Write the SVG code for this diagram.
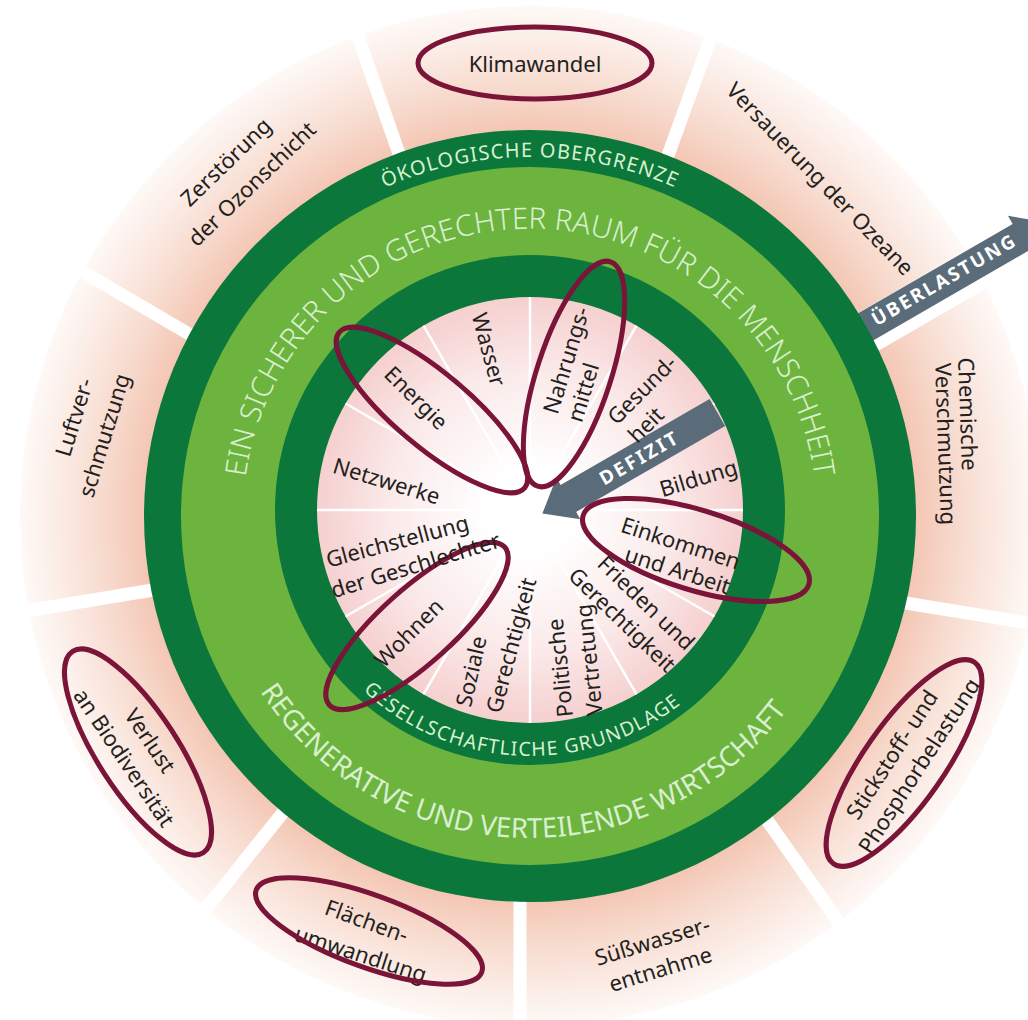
<svg xmlns="http://www.w3.org/2000/svg" width="1028" height="1020" viewBox="0 0 1028 1020">
<style>
.lbl{font-family:"Noto Sans","Open Sans",sans-serif;font-size:22px;fill:#231f20;text-anchor:middle;dominant-baseline:central}
.ring{font-family:"Noto Sans","Open Sans",sans-serif;fill:#d8f0cf;text-anchor:middle}
.arrow{fill:#5a6b79}
.atxt{font-family:"Noto Sans","Open Sans",sans-serif;font-weight:bold;fill:#ffffff;text-anchor:middle;dominant-baseline:central}
.gap{stroke:#ffffff;stroke-width:13;stroke-linecap:butt}
.sline{stroke:#ffffff;stroke-width:2.5}
.oval{fill:none;stroke:#7a1438;stroke-width:5}
</style>
<defs>
  <radialGradient id="gOuter" gradientUnits="userSpaceOnUse" cx="530" cy="516" r="512">
    <stop offset="0.755" stop-color="#f4c7b4"/>
    <stop offset="0.83" stop-color="#f7d9cc"/>
    <stop offset="0.92" stop-color="#fbebe4"/>
    <stop offset="1" stop-color="#fefaf8"/>
  </radialGradient>
  <radialGradient id="gInner" gradientUnits="userSpaceOnUse" cx="530" cy="510" r="213">
    <stop offset="0.2" stop-color="#ffffff"/>
    <stop offset="0.65" stop-color="#fbeaea"/>
    <stop offset="1" stop-color="#f5d0cf"/>
  </radialGradient>
  <path id="pEco" d="M171,516 A359,359 0 0 1 889,516"/>
  <path id="pRaum" d="M247.4,565.8 A287,287 0 1 1 812.6,565.8"/>
  <path id="pRegen" d="M208,516 A322,322 0 0 0 852,516"/>
  <path id="pGes" d="M284,510 A246,246 0 0 0 776,510"/>
</defs>

<!-- outer ecological ceiling segments -->
<g id="ceiling-segments">
  <circle cx="530" cy="516" r="510" fill="url(#gOuter)"/>
  <line class="gap" x1="350" y1="14" x2="403" y2="165"/>
  <line class="gap" x1="718" y1="18" x2="663" y2="169"/>
  <line class="gap" x1="887" y1="600" x2="1035" y2="624"/>
  <line class="gap" x1="760" y1="810" x2="866" y2="961"/>
  <line class="gap" x1="520" y1="880" x2="520" y2="1040"/>
  <line class="gap" x1="293" y1="800" x2="177" y2="945"/>
  <line class="gap" x1="165" y1="588" x2="2" y2="615"/>
  <line class="gap" x1="54" y1="255" x2="201" y2="341"/>
</g>

<g id="connectors">
  <g id="ueberlastung" transform="translate(532,519.5) rotate(-30)">
    <rect x="370" y="-16" width="200" height="43" fill="#ffffff"/>
    <polygon class="arrow" points="370,-15.5 564,-15.5 564,-25 594,0 564,25 564,15.5 370,15.5"/>
  </g>
</g>

<!-- doughnut rings -->
<g id="rings">
  <circle cx="530" cy="516" r="386" fill="#0b773a"/>
  <circle cx="530" cy="516" r="349" fill="#6db43f"/>
  <circle cx="530" cy="510" r="255" fill="#0b773a"/>
  <circle cx="530" cy="510" r="213" fill="url(#gInner)"/>
  <g id="social-lines">
    <line class="sline" x1="530" y1="475" x2="530" y2="297"/>
    <line class="sline" x1="530" y1="475" x2="530" y2="297" transform="rotate(30 530 510)"/>
    <line class="sline" x1="530" y1="475" x2="530" y2="297" transform="rotate(60 530 510)"/>
    <line class="sline" x1="530" y1="475" x2="530" y2="297" transform="rotate(90 530 510)"/>
    <line class="sline" x1="530" y1="475" x2="530" y2="297" transform="rotate(120 530 510)"/>
    <line class="sline" x1="530" y1="475" x2="530" y2="297" transform="rotate(150 530 510)"/>
    <line class="sline" x1="530" y1="475" x2="530" y2="297" transform="rotate(180 530 510)"/>
    <line class="sline" x1="530" y1="475" x2="530" y2="297" transform="rotate(210 530 510)"/>
    <line class="sline" x1="530" y1="475" x2="530" y2="297" transform="rotate(240 530 510)"/>
    <line class="sline" x1="530" y1="475" x2="530" y2="297" transform="rotate(270 530 510)"/>
    <line class="sline" x1="530" y1="475" x2="530" y2="297" transform="rotate(300 530 510)"/>
    <line class="sline" x1="530" y1="475" x2="530" y2="297" transform="rotate(330 530 510)"/>
  </g>
  <text class="ring" font-size="20" letter-spacing="1.2"><textPath href="#pEco" startOffset="50%">ÖKOLOGISCHE OBERGRENZE</textPath></text>
  <text class="ring" font-size="29.5" font-weight="300"><textPath href="#pRaum" startOffset="50%">EIN SICHERER UND GERECHTER RAUM FÜR DIE MENSCHHEIT</textPath></text>
  <text class="ring" font-size="27.5"><textPath href="#pRegen" startOffset="48.9%">REGENERATIVE UND VERTEILENDE WIRTSCHAFT</textPath></text>
  <text class="ring" font-size="19.5" letter-spacing="1.2"><textPath href="#pGes" startOffset="48.7%">GESELLSCHAFTLICHE GRUNDLAGE</textPath></text>
</g>

<g id="connectors-2">
  <g id="defizit" transform="translate(532,519.5) rotate(-30)">
    <polygon class="arrow" points="12,0 42,-24 42,-15.5 214,-15.5 214,15.5 42,15.5 42,24"/>
    <text class="atxt" x="124" y="0" font-size="19" letter-spacing="2.5">DEFIZIT</text>
  </g>
  <g transform="translate(532,519.5) rotate(-30)">
    <text class="atxt" x="477" y="-2" font-size="19" letter-spacing="2.3">ÜBERLASTUNG</text>
  </g>
</g>

<!-- ecological ceiling nodes -->
<g id="n-klimawandel">
  <text class="lbl" transform="translate(535,63)">Klimawandel</text>
  <ellipse class="oval" cx="535" cy="63" rx="117" ry="36"/>
</g>
<g id="n-versauerung">
  <text class="lbl" transform="translate(821,178) rotate(46)">Versauerung der Ozeane</text>
</g>
<g id="n-chemische">
  <text class="lbl" transform="translate(969,414) rotate(88)">Chemische</text>
  <text class="lbl" transform="translate(947,444) rotate(88)">Verschmutzung</text>
</g>
<g id="n-stickstoff">
  <text class="lbl" transform="translate(891,754) rotate(-57)">Stickstoff- und</text>
  <text class="lbl" transform="translate(918,765) rotate(-57)">Phosphorbelastung</text>
  <ellipse class="oval" cx="904" cy="763" rx="123" ry="40" transform="rotate(-55 904 763)"/>
</g>
<g id="n-suesswasser">
  <text class="lbl" transform="translate(652,940) rotate(-17)">Süßwasser-</text>
  <text class="lbl" transform="translate(660,968) rotate(-17)">entnahme</text>
</g>
<g id="n-flaechen">
  <text class="lbl" transform="translate(367,920) rotate(20)">Flächen-</text>
  <text class="lbl" transform="translate(361,953) rotate(18)">umwandlung</text>
  <ellipse class="oval" cx="369" cy="931" rx="120" ry="36" transform="rotate(20 369 931)"/>
</g>
<g id="n-biodiversitaet">
  <text class="lbl" transform="translate(151,740) rotate(56)">Verlust</text>
  <text class="lbl" transform="translate(125,757) rotate(56)">an Biodiversität</text>
  <ellipse class="oval" cx="138" cy="752" rx="120" ry="40" transform="rotate(57 138 752)"/>
</g>
<g id="n-luft">
  <text class="lbl" transform="translate(73,417) rotate(-73)">Luftver-</text>
  <text class="lbl" transform="translate(103,435) rotate(-73)">schmutzung</text>
</g>
<g id="n-ozon">
  <text class="lbl" transform="translate(225,161) rotate(-44)">Zerstörung</text>
  <text class="lbl" transform="translate(251,183) rotate(-44)">der Ozonschicht</text>
</g>

<!-- social foundation nodes -->
<g id="n-wasser"><text class="lbl" transform="translate(490,349) rotate(75)">Wasser</text></g>
<g id="n-nahrung">
  <text class="lbl" transform="translate(565,360) rotate(-73)">Nahrungs-</text>
  <text class="lbl" transform="translate(582,392) rotate(-73)">mittel</text>
  <ellipse class="oval" cx="574" cy="374" rx="118" ry="37" transform="rotate(108 574 374)"/>
</g>
<g id="n-gesundheit">
  <text class="lbl" transform="translate(641,389) rotate(-45)">Gesund-</text>
  <text class="lbl" transform="translate(645,424) rotate(-45)">heit</text>
</g>
<g id="n-bildung"><text class="lbl" transform="translate(698,477) rotate(-17)">Bildung</text></g>
<g id="n-einkommen">
  <text class="lbl" transform="translate(681,542) rotate(18)">Einkommen</text>
  <text class="lbl" transform="translate(678,569) rotate(18)">und Arbeit</text>
  <ellipse class="oval" cx="696" cy="550" rx="118" ry="40" transform="rotate(17 696 550)"/>
</g>
<g id="n-frieden">
  <text class="lbl" transform="translate(647,602) rotate(44)">Frieden und</text>
  <text class="lbl" transform="translate(623,619) rotate(44)">Gerechtigkeit</text>
</g>
<g id="n-politische">
  <text class="lbl" transform="translate(559,668) rotate(-96)">Politische</text>
  <text class="lbl" transform="translate(588,660) rotate(-96)">Vertretung</text>
</g>
<g id="n-soziale">
  <text class="lbl" transform="translate(470,671) rotate(-77)">Soziale</text>
  <text class="lbl" transform="translate(510,645) rotate(-75)">Gerechtigkeit</text>
</g>
<g id="n-wohnen">
  <text class="lbl" transform="translate(408,632) rotate(-45)">Wohnen</text>
  <ellipse class="oval" cx="417" cy="626" rx="118" ry="37" transform="rotate(-42 417 626)"/>
</g>
<g id="n-gleichstellung">
  <text class="lbl" transform="translate(397,540) rotate(-15)">Gleichstellung</text>
  <text class="lbl" transform="translate(415,564) rotate(-17)">der Geschlechter</text>
</g>
<g id="n-netzwerke"><text class="lbl" transform="translate(387,480) rotate(17)">Netzwerke</text></g>
<g id="n-energie">
  <text class="lbl" transform="translate(417,397) rotate(45)">Energie</text>
  <ellipse class="oval" cx="432" cy="410" rx="121" ry="37" transform="rotate(40 432 410)"/>
</g>
</svg>
